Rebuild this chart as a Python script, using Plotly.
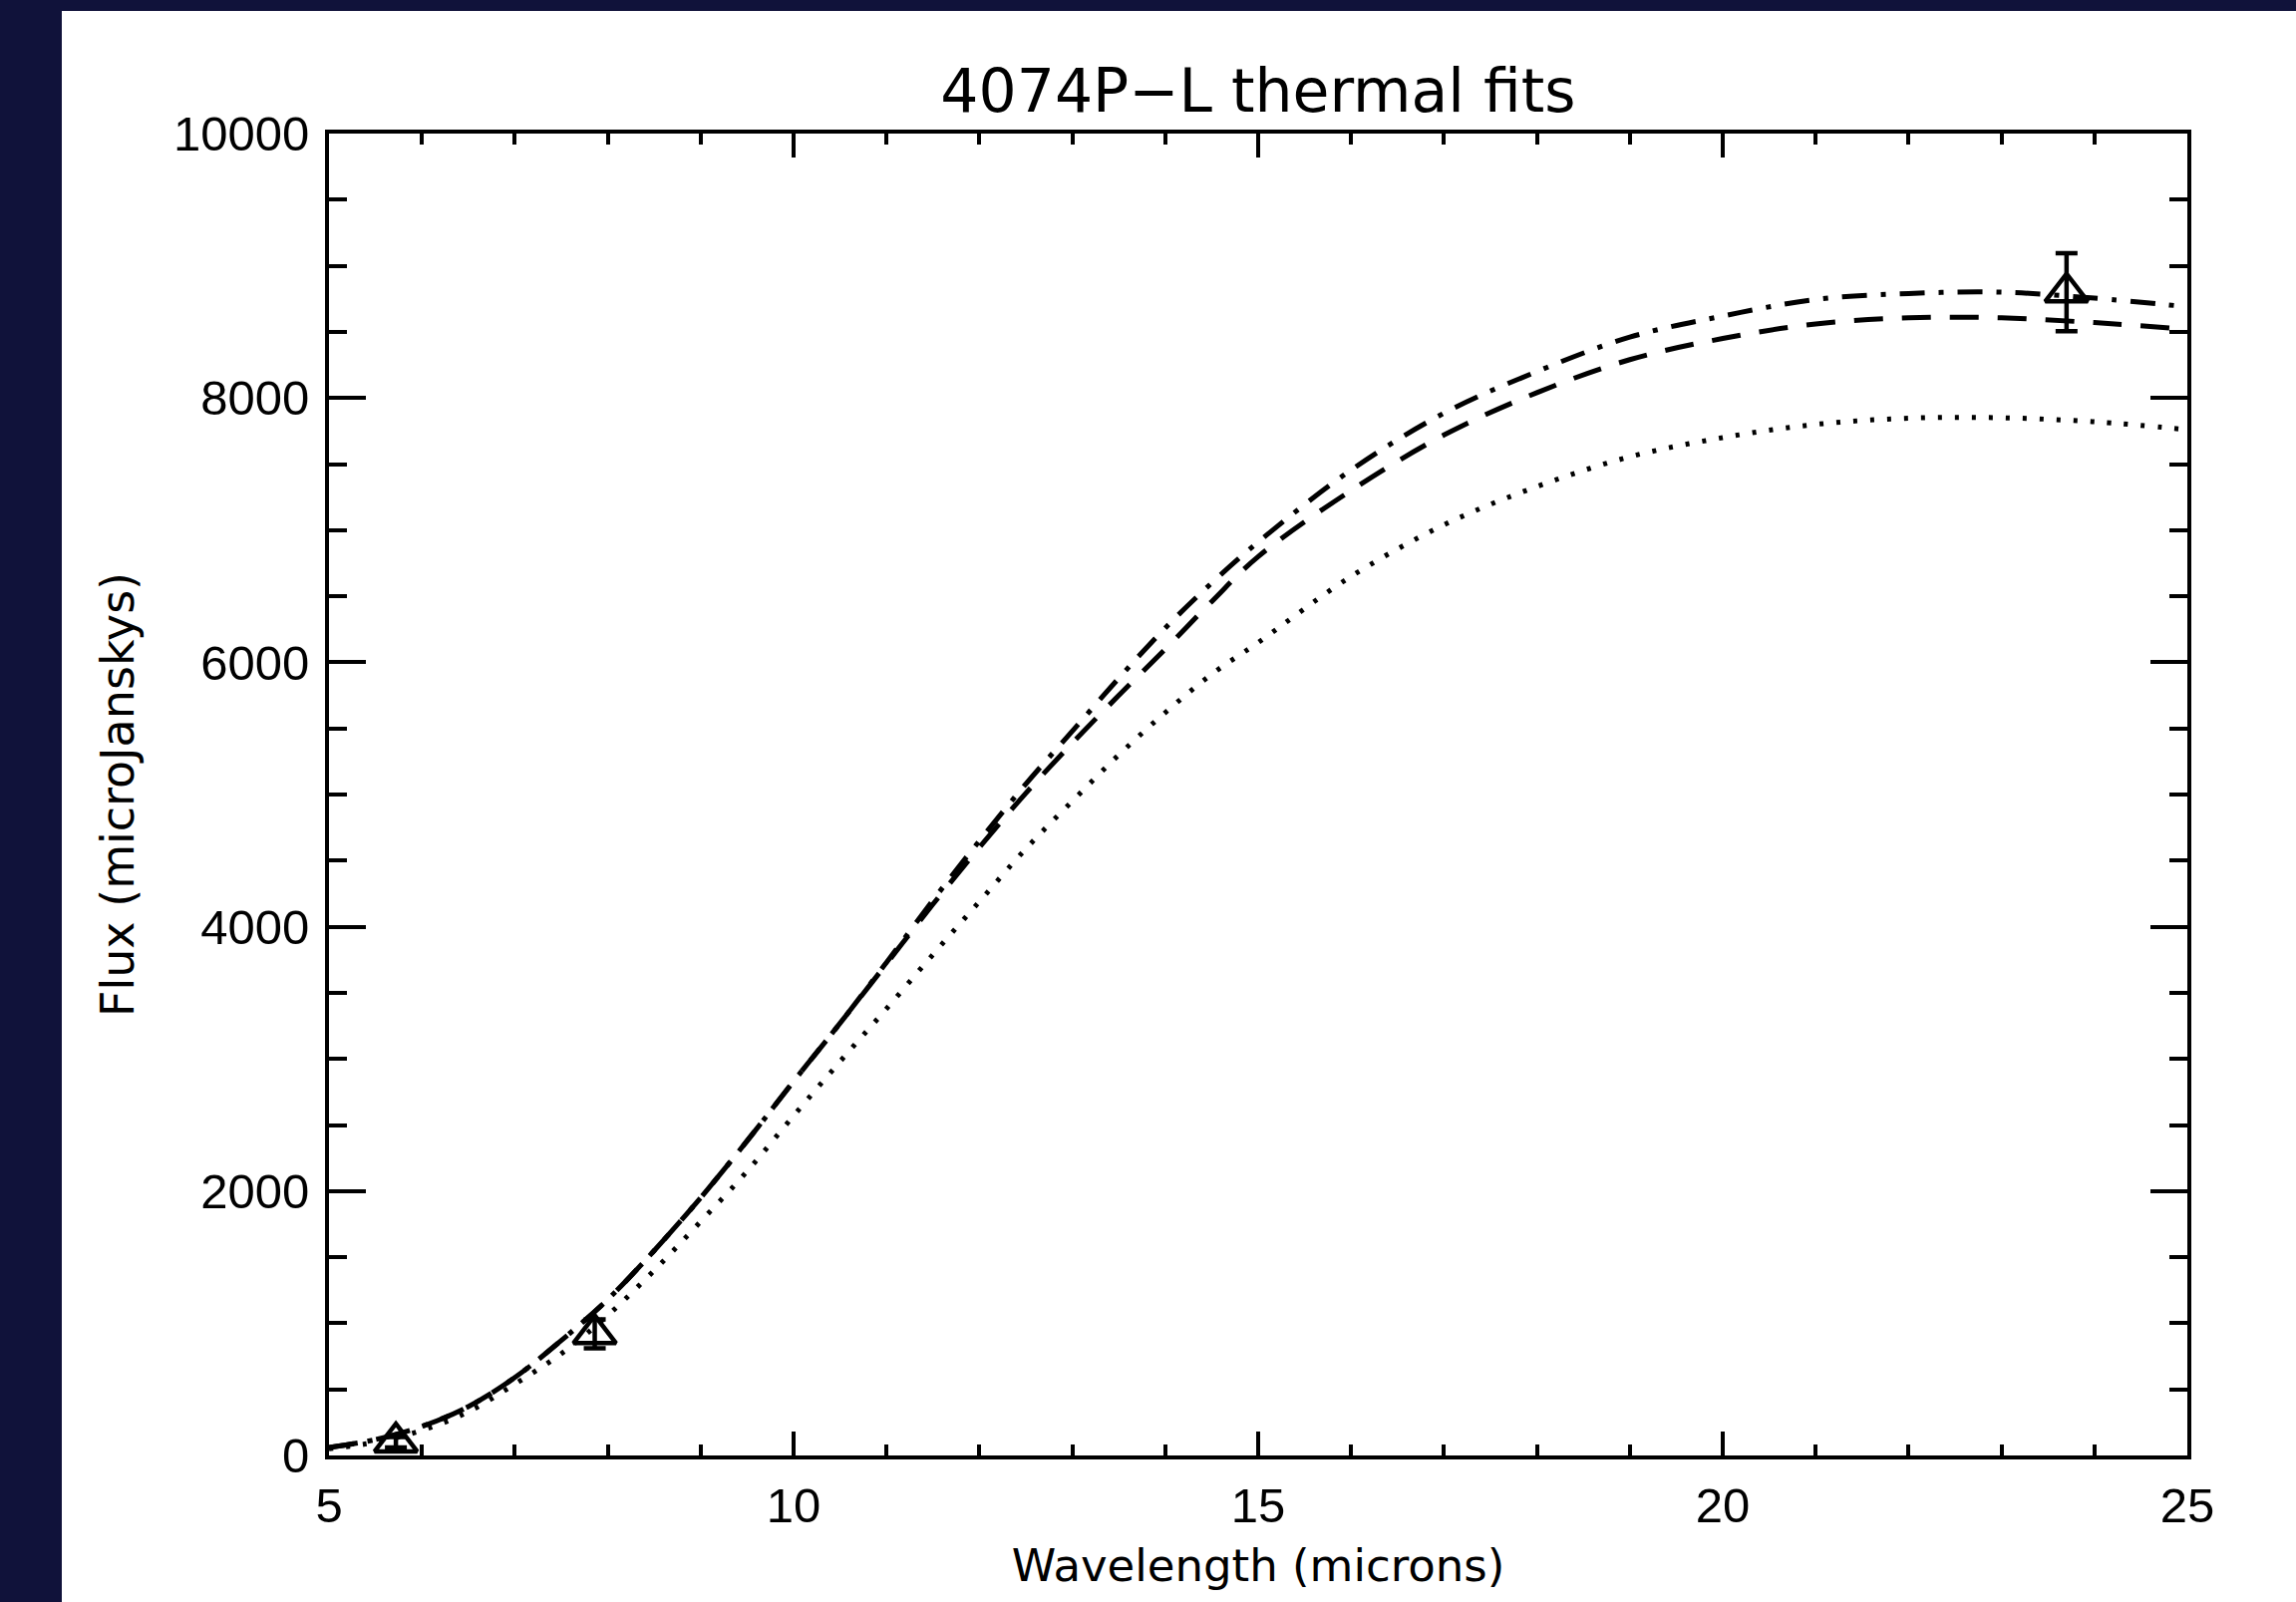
import plotly.graph_objects as go

# ---------------- data ----------------
wavelength = [5, 5.5, 6, 6.5, 7, 7.5, 8, 8.5, 9, 9.5, 10, 10.5, 11, 11.5, 12, 12.5,
              13, 13.5, 14, 14.5, 15, 16, 17, 18, 19, 20, 21, 22, 23, 24, 25]

flux_dashdot = [60, 120, 220, 370, 590, 870, 1180, 1550, 1950, 2380, 2830, 3270, 3730,
                4200, 4650, 5080, 5480, 5880, 6260, 6600, 6910, 7455, 7885, 8200, 8460,
                8620, 8745, 8790, 8800, 8755, 8690]

flux_dashed = [60, 120, 220, 370, 590, 870, 1180, 1550, 1950, 2380, 2830, 3270, 3720,
               4170, 4600, 5010, 5390, 5750, 6100, 6460, 6800, 7300, 7720, 8040, 8290,
               8450, 8560, 8606, 8606, 8570, 8520]

flux_dotted = [50, 100, 190, 330, 540, 770, 1060, 1400, 1770, 2150, 2570, 2980, 3380,
               3790, 4190, 4590, 4950, 5300, 5620, 5910, 6150, 6650, 7040, 7330, 7555,
               7700, 7800, 7847, 7850, 7820, 7760]

obs_wavelength = [5.72, 7.86, 23.70]
obs_flux = [100, 920, 8800]
obs_err = [40, 110, 295]

x_ticks = [5, 10, 15, 20, 25]
x_labels = ["5", "10", "15", "20", "25"]
y_ticks = [0, 2000, 4000, 6000, 8000, 10000]
y_labels = ["0", "2000", "4000", "6000", "8000", "10000"]

# ---------------- figure ----------------
W, H = 2303, 1607
ML, MR, MT, MB = 330, 109, 134, 147
NAVY = "#10123a"
TICKFONT = "Liberation Sans"
TEXTFONT = "DejaVu Sans"

fig = go.Figure()

line_w = 5
fig.add_trace(go.Scatter(x=wavelength, y=flux_dashdot, mode="lines",
                         line=dict(color="black", width=line_w, shape="spline",
                                   dash="25px,14px,5px,14px"),
                         showlegend=False, hoverinfo="skip"))
fig.add_trace(go.Scatter(x=wavelength, y=flux_dashed, mode="lines",
                         line=dict(color="black", width=line_w, shape="spline",
                                   dash="29px,19px"),
                         showlegend=False, hoverinfo="skip"))
fig.add_trace(go.Scatter(x=wavelength, y=flux_dotted, mode="lines",
                         line=dict(color="black", width=line_w, shape="spline",
                                   dash="4px,13px"),
                         showlegend=False, hoverinfo="skip"))
fig.add_trace(go.Scatter(x=obs_wavelength, y=obs_flux, mode="markers",
                         marker=dict(symbol="triangle-up-open", size=37, color="black",
                                     line=dict(width=4.5, color="black")),
                         error_y=dict(type="data", array=obs_err, visible=True,
                                      color="black", thickness=4.5, width=11),
                         showlegend=False, hoverinfo="skip"))

pw = W - ML - MR
ph = H - MT - MB
# white page area (dark border on the left and top)
fig.add_shape(type="rect", xref="paper", yref="paper", layer="below",
              x0=(62 - ML) / pw, x1=(W + 10 - ML) / pw,
              y0=-(MB + 10) / ph, y1=(H - MB - 11) / ph,
              fillcolor="white", line=dict(width=0))

axis_common = dict(showline=True, linecolor="black", linewidth=4, mirror="allticks",
                   ticks="inside", tickcolor="black", tickwidth=3.5,
                   showgrid=False, zeroline=False,
                   tickfont=dict(family=TICKFONT, size=49, color="black"))

fig.update_xaxes(range=[5, 25], tickvals=x_ticks, ticktext=x_labels, ticklen=24,
                 minor=dict(dtick=1, ticks="inside", ticklen=11, tickwidth=3.5,
                            tickcolor="black", showgrid=False),
                 ticklabelstandoff=4,
                 title=dict(text="Wavelength (microns)",
                            font=dict(family=TEXTFONT, size=45, color="black"), standoff=20),
                 **axis_common)
fig.update_yaxes(range=[0, 10000], tickvals=y_ticks, ticktext=y_labels, ticklen=37,
                 minor=dict(dtick=500, ticks="inside", ticklen=18, tickwidth=3.5,
                            tickcolor="black", showgrid=False),
                 ticklabelstandoff=6,
                 title=dict(text="Flux (microJanskys)",
                            font=dict(family=TEXTFONT, size=46, color="black"), standoff=26),
                 **axis_common)

fig.update_layout(
    width=W, height=H,
    margin=dict(l=ML, r=MR, t=MT, b=MB, autoexpand=False),
    paper_bgcolor=NAVY, plot_bgcolor="white",
    title=dict(text="4074P\u2212L thermal fits", x=0.5, xref="paper",
               y=1 - 91 / H, yref="container", yanchor="middle", xanchor="center",
               font=dict(family=TEXTFONT, size=60, color="black")),
)

fig.write_html(
    "out.html",
    config={"displayModeBar": False},
    post_script="document.body.style.margin='0';document.body.style.overflow='hidden';",
)
